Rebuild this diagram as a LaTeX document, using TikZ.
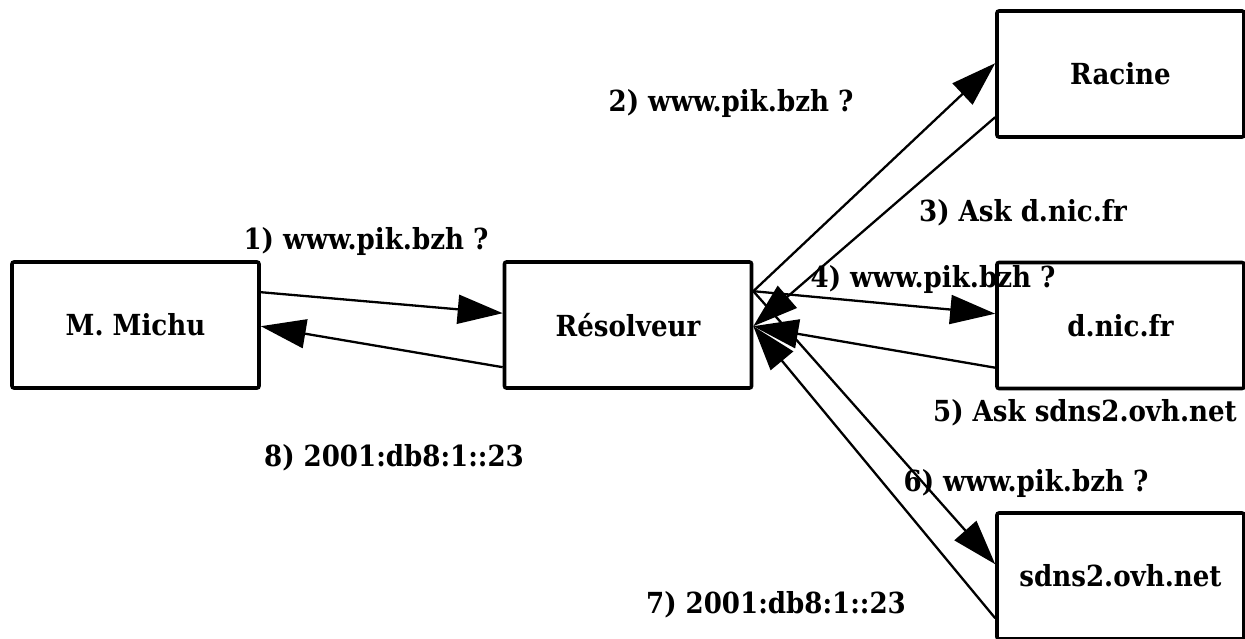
\documentclass[tikz,border=0pt]{standalone}
\usepackage{fontspec}
\newfontfamily\lblfont{DejaVu Serif Condensed}
\usetikzlibrary{arrows.meta}
\tikzset{
  box/.style={draw, line width=3.6pt, rounded corners=2pt, minimum width=247pt, minimum height=126pt, inner sep=0pt, font=\lblfont\bfseries\fontsize{29}{32}\selectfont},
  lbl/.style={inner sep=0pt, font=\lblfont\bfseries\fontsize{29}{32}\selectfont},
  msg/.style={line width=2.3pt, -{Triangle[length=45pt,width=29pt]}},
}
\begin{document}
\begin{tikzpicture}[x=1pt,y=-1pt]
\useasboundingbox (0,0) rectangle (1245,639);
\node[box] (mm) at (135.5,325) {M. Michu};
\node[box] (res) at (628,325) {Résolveur};
\node[box] (rac) at (1120.5,74) {Racine};
\node[box] (dnic) at (1120.5,325.5) {d.nic.fr};
\node[box] (sdns) at (1120.5,576) {sdns2.ovh.net};

\draw[msg] ([yshift=-32pt]mm.north east) -- ([yshift=-53pt]res.north west);
\draw[msg] ([yshift=-107pt]res.north west) -- ([yshift=-66pt]mm.north east);
\draw[msg] ([yshift=-31pt]res.north east) -- ([yshift=-54pt]rac.north west);
\draw[msg] ([yshift=-108pt]rac.north west) -- ([yshift=-66pt]res.north east);
\draw[msg] ([yshift=-31pt]res.north east) -- ([yshift=-53pt]dnic.north west);
\draw[msg] ([yshift=-107pt]dnic.north west) -- ([yshift=-66pt]res.north east);
\draw[msg] ([yshift=-31pt]res.north east) -- ([yshift=-53pt]sdns.north west);
\draw[msg] ([yshift=-107pt]sdns.north west) -- ([yshift=-66pt]res.north east);

\node[lbl] (l1) at (366,241) {1) www.pik.bzh ?};
\node[lbl] (l2) at (731,104) {2) www.pik.bzh ?};
\node[lbl] (l3) at (1023,213) {3) Ask d.nic.fr};
\node[lbl] (l4) at (933,279) {4) www.pik.bzh ?};
\node[lbl] (l5) at (1085,413) {5) Ask sdns2.ovh.net};
\node[lbl] (l6) at (1026,483) {6) www.pik.bzh ?};
\node[lbl] (l7) at (776,605) {7) 2001:db8:1::23};
\node[lbl] (l8) at (394,458) {8) 2001:db8:1::23};
\end{tikzpicture}
\end{document}
